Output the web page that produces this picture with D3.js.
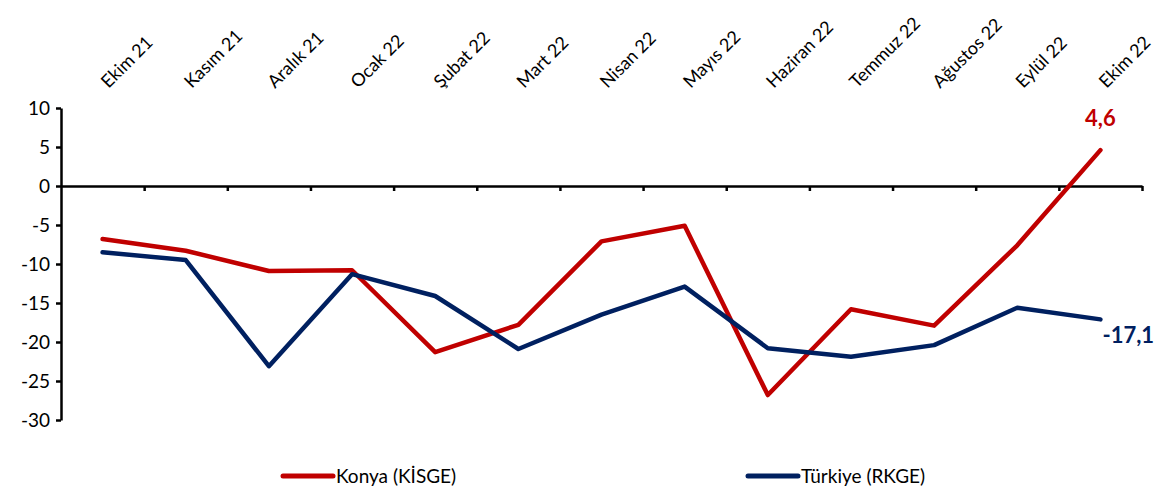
<!DOCTYPE html>
<html>
<head>
<meta charset="utf-8">
<script src="https://cdn.jsdelivr.net/npm/d3@7"></script>
<style>
  html, body { margin: 0; padding: 0; background: #fff; }
  svg { display: block; }
  text { font-family: Lato, "Noto Sans", sans-serif; fill: #000; }
</style>
</head>
<body>
<svg id="chart" width="1164" height="492"></svg>
<script>
const categories = ["Ekim 21","Kasım 21","Aralık 21","Ocak 22","Şubat 22","Mart 22","Nisan 22","Mayıs 22","Haziran 22","Temmuz 22","Ağustos 22","Eylül 22","Ekim 22"];
const konya = [-6.8,-8.3,-10.9,-10.8,-21.3,-17.8,-7.1,-5.1,-26.8,-15.8,-17.9,-7.6,4.6];
const turkiye = [-8.5,-9.5,-23.1,-11.3,-14.1,-20.9,-16.5,-12.9,-20.8,-21.9,-20.4,-15.6,-17.1];
const yTicks = [10,5,0,-5,-10,-15,-20,-25,-30];
const seriesNames = ["Konya (KİSGE)","Türkiye (RKGE)"];
const seriesColors = ["#C00000","#002060"];
const lastLabels = ["4,6","-17,1"];

const svg = d3.select("#chart");
const mLeft = 61, mRight = 1142, mTop = 108, mBottom = 420;

const x = d3.scaleBand().domain(categories).range([mLeft, mRight]);
const bw = x.bandwidth();
const y = d3.scaleLinear().domain([-30, 10]).range([mBottom, mTop]);
const cx = c => x(c) + bw / 2;

// Y axis
const yAxis = svg.append("g").attr("transform", `translate(${mLeft},0)`)
  .call(d3.axisLeft(y).tickValues(yTicks).tickSize(5).tickSizeOuter(0).tickPadding(6).tickFormat(d => String(d)));
yAxis.select(".domain").attr("stroke", "#000").attr("stroke-width", 2.5);
yAxis.selectAll(".tick line").attr("stroke", "#000").attr("stroke-width", 2.5);
yAxis.selectAll(".tick text").style("font-size", "19px").style("font-family", "Lato, sans-serif").attr("fill", "#000");

// X axis at zero with ticks at band boundaries
const xb = d3.scaleLinear().domain([0, categories.length]).range([mLeft, mRight]);
const xAxis = svg.append("g").attr("transform", `translate(0,${y(0)})`)
  .call(d3.axisBottom(xb).tickValues(d3.range(1, categories.length + 1)).tickSize(5).tickSizeOuter(0).tickFormat(""));
xAxis.select(".domain").attr("stroke", "#000").attr("stroke-width", 2.5);
xAxis.selectAll(".tick line").attr("stroke", "#000").attr("stroke-width", 2.5);

// Rotated category labels at top
svg.append("g").selectAll("text").data(categories).join("text")
  .attr("transform", d => `translate(${cx(d) + 6},89) rotate(-45)`)
  .attr("text-anchor", "start")
  .style("font-size", "18px")
  .text(d => d);

// Lines
const line = d3.line().x((d, i) => cx(categories[i])).y(d => y(d));
[konya, turkiye].forEach((s, k) => {
  svg.append("path").datum(s)
    .attr("d", line)
    .attr("fill", "none")
    .attr("stroke", seriesColors[k])
    .attr("stroke-width", 4.5)
    .attr("stroke-linejoin", "round")
    .attr("stroke-linecap", "round");
});

// Data labels for last point
const last = categories[categories.length - 1];
svg.append("text")
  .attr("x", cx(last)).attr("y", y(konya[konya.length - 1]) - 24)
  .attr("text-anchor", "middle")
  .style("font-size", "22px").style("font-weight", "bold")
  .style("fill", seriesColors[0])
  .text(lastLabels[0]);
svg.append("text")
  .attr("x", cx(last) + 2).attr("y", y(turkiye[turkiye.length - 1]) + 24)
  .attr("text-anchor", "start")
  .style("font-size", "22px").style("font-weight", "bold")
  .style("fill", seriesColors[1])
  .text(lastLabels[1]);

// Legend
const legendX = [283, 748];
seriesNames.forEach((n, k) => {
  const g = svg.append("g").attr("transform", `translate(${legendX[k]},476)`);
  g.append("line").attr("x1", 0).attr("x2", 50).attr("y1", 0).attr("y2", 0)
    .attr("stroke", seriesColors[k]).attr("stroke-width", 5).attr("stroke-linecap", "round");
  g.append("text").attr("x", 53).attr("y", 7).style("font-size", "19px").text(n);
});
</script>
</body>
</html>
